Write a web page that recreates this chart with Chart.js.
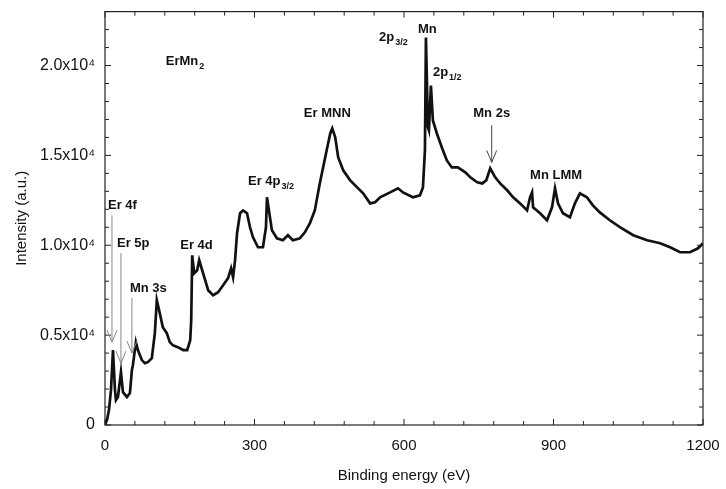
<!DOCTYPE html>
<html>
<head>
<meta charset="utf-8">
<script src="https://cdn.jsdelivr.net/npm/chart.js@4.4.1/dist/chart.umd.min.js"></script>
<style>
  html, body { margin: 0; padding: 0; background: #fff; }
  #wrap { width: 726px; height: 489px; }
</style>
</head>
<body>
<div id="wrap"><canvas id="xps" width="726" height="489"></canvas></div>
<script>
// binding energy (eV) and intensity (a.u.)
const energy = [0, 4, 8, 12, 16, 20, 22, 26, 32, 36, 44, 50, 54, 56, 62, 66, 74, 80, 86, 94,
  100, 104, 110, 116, 124, 130, 136, 146, 157, 165, 171, 173, 175, 179, 185, 189, 195, 201, 207, 217,
  227, 237, 247, 253, 257, 261, 265, 271, 277, 285, 291, 297, 307, 317, 323, 325, 335, 345, 357, 367,
  377, 391, 401, 411, 421, 431, 446, 452, 456, 462, 468, 478, 492, 506, 518, 532, 542, 552, 572, 588,
  598, 618, 632, 638, 642, 644, 648, 650, 654, 658, 666, 676, 686, 696, 708, 723, 733, 747, 757, 765,
  773, 783, 793, 807, 819, 833, 847, 853, 857, 859, 873, 887, 897, 903, 909, 919, 933, 943, 953, 967,
  979, 993, 1013, 1034, 1060, 1088, 1114, 1134, 1154, 1174, 1190, 1200];
const intensity = [0, 280, 830, 1940, 4170, 1940, 1390, 1560, 2940, 1830, 1560, 1780, 3060, 3330, 4610, 4170, 3610, 3440, 3500, 3720,
  5110, 6940, 6220, 5440, 5110, 4610, 4440, 4330, 4170, 4170, 4720, 5830, 9440, 8440, 8610, 9170, 8610, 8060, 7500, 7220,
  7390, 7780, 8170, 8720, 8220, 9170, 10670, 11780, 11940, 11780, 11000, 10440, 9890, 9890, 11000, 12670, 10830, 10390, 10280, 10560,
  10280, 10390, 10720, 11220, 11940, 13440, 15440, 16220, 16500, 16000, 14890, 14170, 13610, 13220, 12890, 12330, 12390, 12670, 12940, 13170,
  12940, 12670, 12780, 13220, 15280, 21560, 16560, 16390, 18890, 16940, 16220, 15440, 14720, 14330, 14330, 14060, 13780, 13500, 13440, 13610,
  14280, 13780, 13440, 13060, 12670, 12330, 11940, 12670, 12940, 12110, 11780, 11390, 12110, 13170, 12330, 11780, 11560, 12330, 12890, 12670,
  12220, 11830, 11390, 11000, 10560, 10280, 10110, 9890, 9610, 9610, 9830, 10110];

const xTicks = [0, 300, 600, 900, 1200];
const yTicks = [0, 5000, 10000, 15000, 20000];
const yTickLabels = ['0', '0.5x10⁴', '1.0x10⁴', '1.5x10⁴', '2.0x10⁴'];

// peak labels: text, subscript, left energy, middle intensity
const peakLabels = [
  ['ErMn', '2', 122, 20220],
  ['Er 4f', '', 6, 12220],
  ['Er 5p', '', 24, 10110],
  ['Mn 3s', '', 50, 7610],
  ['Er 4d', '', 151, 10000],
  ['Er 4p', '3/2', 287, 13560],
  ['Er MNN', '', 399, 17330],
  ['2p', '3/2', 550, 21560],
  ['Mn', '', 628, 22000],
  ['2p', '1/2', 658, 19610],
  ['Mn 2s', '', 739, 17330],
  ['Mn LMM', '', 853, 13890]
];
// arrows: energy, top intensity, tip intensity
const arrows = [
  [14, 11670, 4610],
  [32, 9560, 3440],
  [54, 7060, 4000],
  [776, 16670, 14610]
];

document.addEventListener('DOMContentLoaded', function() {
    const ctx = document.getElementById('xps');
    const fontFam = "'Liberation Sans', Arial, sans-serif";

    // frame, inward ticks, arrows and peak names
    const decor = {
        id: 'decor',
        afterDatasetsDraw(chart) {
            const c = chart.ctx;
            const xs = chart.scales.x, ys = chart.scales.y;
            const a = chart.chartArea;
            c.save();
            c.strokeStyle = '#222';
            c.lineWidth = 1.2;
            c.strokeRect(a.left, a.top, a.right - a.left, a.bottom - a.top);

            // x ticks every 60 eV, y ticks every 1000
            c.lineWidth = 1;
            for (let e = 0; e <= 1200; e += 60) {
                const px = xs.getPixelForValue(e);
                const len = e % 300 === 0 ? 6 : 4;
                c.beginPath();
                c.moveTo(px, a.bottom); c.lineTo(px, a.bottom - len);
                c.moveTo(px, a.top); c.lineTo(px, a.top + len);
                c.stroke();
            }
            for (let v = 0; v <= 23000; v += 1000) {
                const py = ys.getPixelForValue(v);
                const len = v % 5000 === 0 ? 6 : 4;
                c.beginPath();
                c.moveTo(a.left, py); c.lineTo(a.left + len, py);
                c.moveTo(a.right, py); c.lineTo(a.right - len, py);
                c.stroke();
            }

            // arrows
            arrows.forEach((ar, i) => {
                const px = xs.getPixelForValue(ar[0]);
                const top = ys.getPixelForValue(ar[1]);
                const tip = ys.getPixelForValue(ar[2]);
                c.strokeStyle = i === 3 ? '#444' : '#888';
                c.lineWidth = 1;
                c.beginPath();
                c.moveTo(px, top); c.lineTo(px, tip);
                c.moveTo(px - 5, tip - 12); c.lineTo(px, tip); c.lineTo(px + 5, tip - 12);
                c.stroke();
            });

            // labels
            c.fillStyle = '#111';
            c.textBaseline = 'middle';
            c.textAlign = 'left';
            peakLabels.forEach(l => {
                const px = xs.getPixelForValue(l[2]);
                const py = ys.getPixelForValue(l[3]);
                c.font = 'bold 13px ' + fontFam;
                c.fillText(l[0], px, py);
                if (l[1]) {
                    const w = c.measureText(l[0]).width;
                    c.font = 'bold 9px ' + fontFam;
                    c.fillText(l[1], px + w + 1, py + 5);
                }
            });
            c.restore();
        }
    };

    new Chart(ctx, {
        type: 'line',
        data: {
            datasets: [{
                data: energy.map((e, i) => ({ x: e, y: intensity[i] })),
                borderColor: '#111',
                borderWidth: 2.7,
                pointRadius: 0,
                tension: 0,
                fill: false
            }]
        },
        options: {
            responsive: false,
            animation: false,
            layout: { padding: { top: 10, right: 23, left: 0, bottom: 0 } },
            plugins: { legend: { display: false }, tooltip: { enabled: false } },
            scales: {
                x: {
                    type: 'linear',
                    min: 0, max: 1200,
                    afterBuildTicks: s => { s.ticks = xTicks.map(v => ({ value: v })); },
                    afterFit: s => { s.height = 64; },
                    grid: { display: false },
                    border: { display: false },
                    ticks: { color: '#111', font: { family: fontFam, size: 15 }, padding: 4, maxRotation: 0, callback: v => String(v) },
                    title: { display: true, text: 'Binding energy (eV)', color: '#111', font: { family: fontFam, size: 15 }, padding: { top: 4, bottom: 4 } }
                },
                y: {
                    type: 'linear',
                    min: 0, max: 23000,
                    afterBuildTicks: s => { s.ticks = yTicks.map(v => ({ value: v })); },
                    afterFit: s => { s.width = 105; },
                    grid: { display: false },
                    border: { display: false },
                    ticks: {
                        color: '#111', font: { family: fontFam, size: 16 }, padding: 2,
                        callback: v => yTickLabels[yTicks.indexOf(v)]
                    },
                    title: { display: true, text: 'Intensity (a.u.)', color: '#111', font: { family: fontFam, size: 15 }, padding: { top: 13, bottom: 0 } }
                }
            }
        },
        plugins: [decor]
    });
});
</script>
</body>
</html>
